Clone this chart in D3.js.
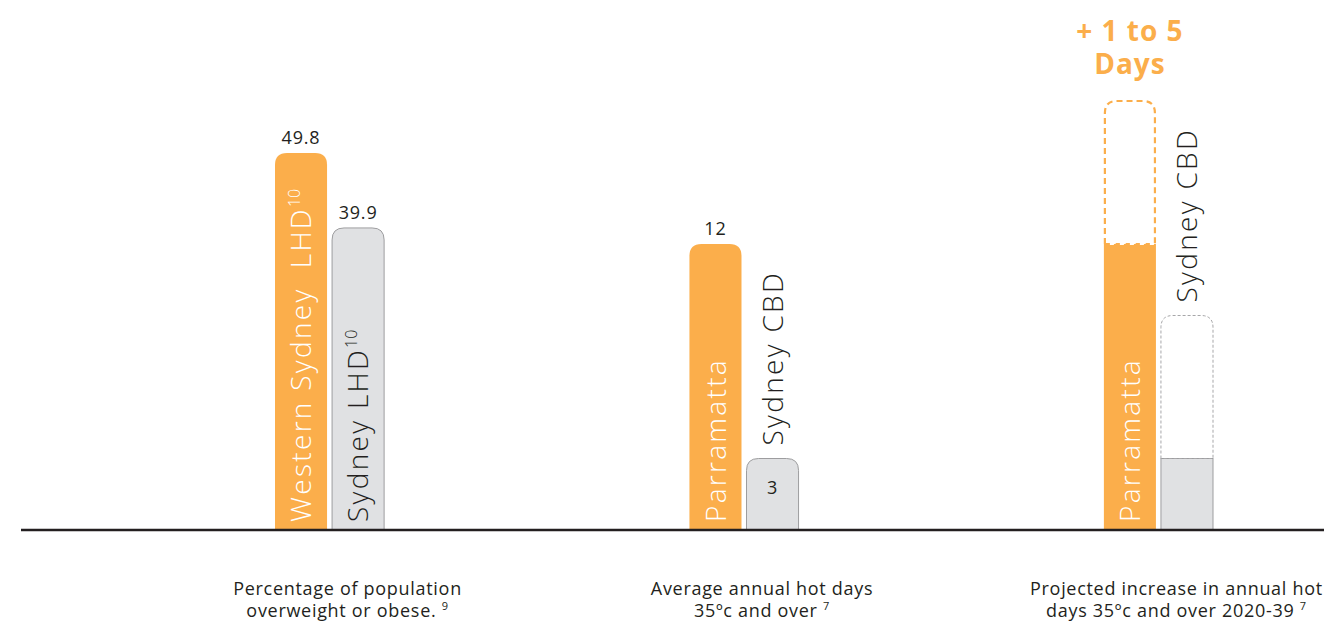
<!DOCTYPE html>
<html>
<head>
<meta charset="utf-8">
<script src="https://cdn.jsdelivr.net/npm/d3@7"></script>
<style>
  body { margin: 0; background: #fff; }
  svg { display: block; font-family: "Open Sans", sans-serif; }
</style>
</head>
<body>
<svg id="chart" width="1324" height="622"></svg>
<script>
// chart data
const groups = ['overweight', 'hotDays', 'projected']
const captions = [
  ['Percentage of population', 'overweight or obese. ', '9'],
  ['Average annual hot days', '35ºc and over ', '7'],
  ['Projected increase in annual hot', 'days 35ºc and over 2020-39 ', '7']
]
const barNames = [
  [['Western Sydney\u00a0\u00a0LHD', '10'], ['Sydney LHD', '10']],
  [['Parramatta', ''], ['Sydney CBD', '']],
  [['Parramatta', ''], ['Sydney CBD', '']]
]
const barValues = [[49.8, 39.9], [12, 3], [12, 3]]
const projectedValues = [null, null, [18, 9]]
const showValues = [true, true, false]
const increaseLabel = ['+ 1 to 5', 'Days']

const orange = '#fbae4b'
const grey = '#e0e1e3'
const dark = '#231f20'

const svg = d3.select('#chart')
const baseY = 530

// group positions
const x = d3.scaleBand()
  .domain(groups)
  .range([275, 1213])
  .paddingInner(1 - 109 / 414)
  .paddingOuter(0)

const xInner = d3.scaleBand()
  .domain([0, 1])
  .range([0, x.bandwidth()])
  .paddingInner(0.088)

// one scale for percentages, one shared by the hot day charts
const yPct = d3.scaleLinear().domain([0, 49.8]).range([baseY, 153])
const yDays = d3.scaleLinear().domain([0, 12]).range([baseY, 244])
const yScales = [yPct, yDays, yDays]

/**
 * Builds a bar path whose top corners are rounded.
 */
function topRounded (x0, y0, w, h, r) {
  r = Math.min(r, h)
  return `M${x0},${y0 + h}V${y0 + r}Q${x0},${y0} ${x0 + r},${y0}` +
    `H${x0 + w - r}Q${x0 + w},${y0} ${x0 + w},${y0 + r}V${y0 + h}Z`
}

groups.forEach((key, gi) => {
  const y = yScales[gi]
  const g = svg.append('g').attr('transform', `translate(${x(key)},0)`)
  const bw = xInner.bandwidth()

  barValues[gi].forEach((v, bi) => {
    const bx = xInner(bi)
    const top = y(v)
    const fill = bi === 0 ? orange : grey
    const proj = projectedValues[gi] ? projectedValues[gi][bi] : null

    if (proj === null) {
      g.append('path')
        .attr('d', topRounded(bx, top, bw, baseY - top, 12))
        .attr('fill', fill)
        .attr('stroke', bi === 0 ? 'none' : '#9d9d9f')
        .attr('stroke-width', 1)
    } else {
      g.append('rect')
        .attr('x', bx).attr('y', top)
        .attr('width', bw).attr('height', baseY - top)
        .attr('fill', fill)
        .attr('stroke', bi === 0 ? 'none' : '#9d9d9f')
        .attr('stroke-width', 1)
      const pTop = y(proj)
      if (bi === 0) {
        g.append('path')
          .attr('d', topRounded(bx + 1, pTop, bw - 2, top - pTop, 12))
          .attr('fill', 'none')
          .attr('stroke', orange)
          .attr('stroke-width', 2.2)
          .attr('stroke-dasharray', '6,4')
        g.append('line')
          .attr('x1', bx).attr('x2', bx + bw)
          .attr('y1', top).attr('y2', top)
          .attr('stroke', '#fff').attr('stroke-width', 2.2)
          .attr('stroke-dasharray', '0,6,4,0')
      } else {
        g.append('path')
          .attr('d', topRounded(bx, pTop, bw, top - pTop, 12))
          .attr('fill', 'none')
          .attr('stroke', '#a7a7a9')
          .attr('stroke-width', 1)
          .attr('stroke-dasharray', '3,2')
      }
    }

    // rotated bar name: inside the bar when it fits, above otherwise
    const cx = bx + bw / 2
    const label = g.append('text')
      .attr('font-size', 28)
      .attr('font-weight', 300)
      .attr('letter-spacing', 2.3)
      .attr('dy', '0.36em')
    label.append('tspan').text(barNames[gi][bi][0])
    if (barNames[gi][bi][1]) {
      label.append('tspan')
        .attr('font-size', 16)
        .attr('letter-spacing', 0)
        .attr('dy', -11)
        .text(barNames[gi][bi][1])
    }
    const len = label.node().getComputedTextLength()
    const topOfBar = proj === null ? top : y(proj)
    const inside = proj === null ? len + 20 < baseY - topOfBar : bi === 0
    if (inside) {
      label.attr('transform', `translate(${cx},${baseY - 8}) rotate(-90)`)
        .attr('fill', bi === 0 ? '#fff' : dark)
    } else {
      label.attr('transform', `translate(${cx},${topOfBar - 13}) rotate(-90)`)
        .attr('fill', dark)
    }

    if (showValues[gi]) {
      g.append('text')
        .attr('x', cx)
        .attr('y', inside ? top - 9 : top + 35)
        .attr('text-anchor', 'middle')
        .attr('font-size', 18)
        .attr('letter-spacing', 0.8)
        .attr('fill', dark)
        .text(d3.format('')(v))
    }
  })

  // caption under the chart
  const capX = x(key) + x.bandwidth() / 2 + 18
  const cap = svg.append('text')
    .attr('text-anchor', 'middle')
    .attr('font-size', 18)
    .attr('letter-spacing', 0.7)
    .attr('fill', dark)
  cap.append('tspan').attr('x', capX).attr('y', 595).text(captions[gi][0])
  const l2 = cap.append('tspan').attr('x', capX).attr('y', 617)
  l2.append('tspan').text(captions[gi][1])
  l2.append('tspan').attr('font-size', 11).attr('dy', -7).text(captions[gi][2])

  if (projectedValues[gi]) {
    const ox = x(key) + xInner(0) + xInner.bandwidth() / 2
    increaseLabel.forEach((t, i) => {
      svg.append('text')
        .attr('x', ox)
        .attr('y', 41 + i * 33)
        .attr('text-anchor', 'middle')
        .attr('font-size', 28)
        .attr('font-weight', 700)
        .attr('letter-spacing', 1)
        .attr('fill', orange)
        .text(t)
    })
  }
})

// baseline
svg.append('line')
  .attr('x1', 21).attr('x2', 1324)
  .attr('y1', baseY).attr('y2', baseY)
  .attr('stroke', dark)
  .attr('stroke-width', 2.5)
</script>
</body>
</html>
